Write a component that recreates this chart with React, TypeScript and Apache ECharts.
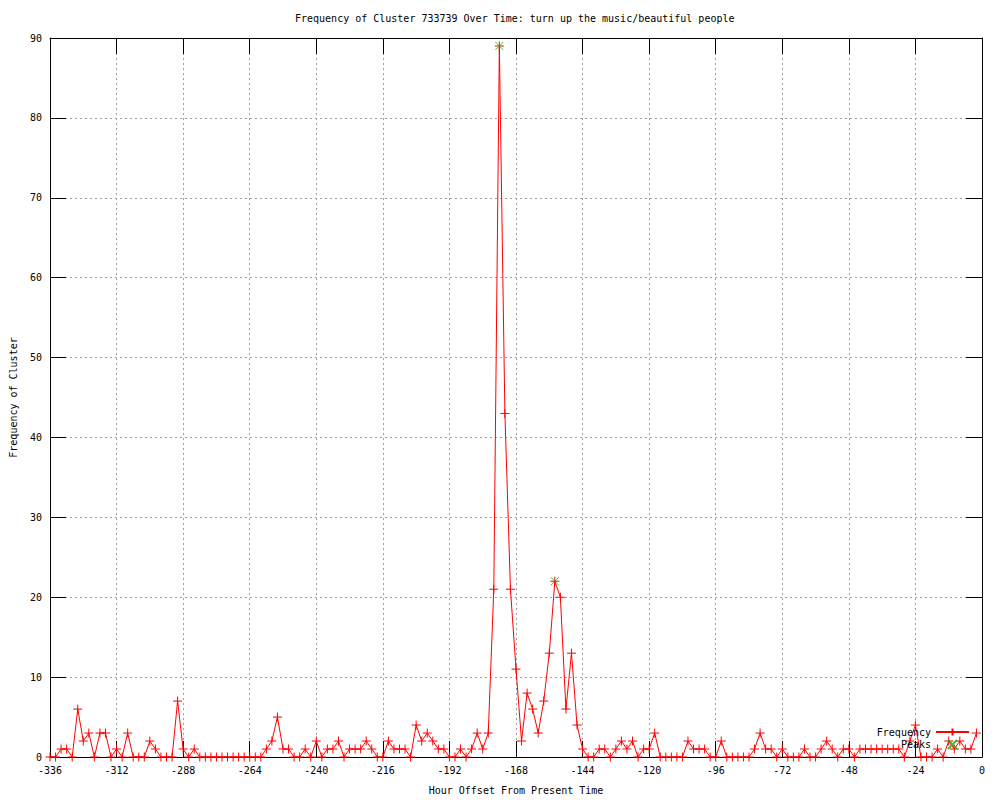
import React, { useEffect, useRef } from "react";
import * as echarts from "echarts";

const TITLE = "Frequency of Cluster 733739 Over Time: turn up the music/beautiful people";
const X_NAME = "Hour Offset From Present Time";
const Y_NAME = "Frequency of Cluster";
const SERIES_FREQ = "Frequency";
const SERIES_PEAKS = "Peaks";

// hours of the samples: -336, -334, ... , -2
const FIRST_HOUR = -336;
const HOUR_STEP = 2;

const frequency = [
  0, 0, 1, 1, 0, 6, 2, 3, 0, 3,
  3, 0, 1, 0, 3, 0, 0, 0, 2, 1,
  0, 0, 0, 7, 1, 0, 1, 0, 0, 0,
  0, 0, 0, 0, 0, 0, 0, 0, 0, 1,
  2, 5, 1, 1, 0, 0, 1, 0, 2, 0,
  1, 1, 2, 0, 1, 1, 1, 2, 1, 0,
  0, 2, 1, 1, 1, 0, 4, 2, 3, 2,
  1, 1, 0, 0, 1, 0, 1, 3, 1, 3,
  21, 89, 43, 21, 11, 2, 8, 6, 3, 7,
  13, 22, 20, 6, 13, 4, 1, 0, 0, 1,
  1, 0, 1, 2, 1, 2, 0, 1, 1, 3,
  0, 0, 0, 0, 0, 2, 1, 1, 1, 0,
  0, 2, 0, 0, 0, 0, 0, 1, 3, 1,
  1, 0, 1, 0, 0, 0, 1, 0, 0, 1,
  2, 1, 0, 1, 1, 0, 1, 1, 1, 1,
  1, 1, 1, 1, 0, 2, 4, 0, 0, 0,
  1, 0, 2, 1, 2, 1, 1, 3,
];

const peakHours = [-174, -154];
const peakValues = [89, 22];

const X_MIN = -336;
const X_MAX = 0;
const X_INTERVAL = 24;
const Y_MIN = 0;
const Y_MAX = 90;
const Y_INTERVAL = 10;

const FONT = "'DejaVu Sans Mono', 'Liberation Mono', monospace";
const PLUS = "path://M5,0L5,10M0,5L10,5";
const CROSS = "path://M0,0L10,10M10,0L0,10";

export default function App() {
  const ref = useRef<HTMLDivElement>(null);

  useEffect(() => {
    if (!ref.current) return;
    const chart = echarts.init(ref.current, null, { renderer: "svg" });

    const freqData = frequency.map((v, i) => [FIRST_HOUR + i * HOUR_STEP, v]);
    const peakData = peakHours.map((h, i) => [h, peakValues[i]]);

    const black = { color: "#000", width: 1 };
    const labelStyle = { fontFamily: FONT, fontSize: 10, color: "#000" };
    const grid = { color: "#a0a0a0", width: 1, type: [2, 3] };

    const option: any = {
      animation: false,
      backgroundColor: "#ffffff",
      textStyle: { fontFamily: FONT, fontSize: 10, color: "#000" },
      title: {
        text: TITLE,
        left: 295,
        top: 13,
        padding: 0,
        textStyle: { fontFamily: FONT, fontSize: 10, fontWeight: "normal", color: "#000" },
      },
      grid: { left: 50, top: 38, width: 932, height: 722, containLabel: false },
      legend: {
        orient: "vertical",
        right: 30,
        top: 727,
        align: "right",
        padding: 0,
        itemWidth: 33,
        itemHeight: 9,
        itemGap: 2,
        selectedMode: false,
        textStyle: { fontFamily: FONT, fontSize: 10, color: "#000" },
        data: [SERIES_FREQ, SERIES_PEAKS],
      },
      xAxis: [
        {
          type: "value",
          position: "bottom",
          min: X_MIN,
          max: X_MAX,
          interval: X_INTERVAL,
          name: X_NAME,
          nameLocation: "middle",
          nameGap: 28,
          nameTextStyle: labelStyle,
          axisLine: { show: true, onZero: false, lineStyle: black },
          axisTick: { show: true, inside: true, length: 16, lineStyle: black },
          axisLabel: { show: true, margin: 8, ...labelStyle },
          splitLine: { show: true, lineStyle: grid },
        },
        {
          type: "value",
          position: "top",
          min: X_MIN,
          max: X_MAX,
          interval: X_INTERVAL,
          axisLine: { show: true, onZero: false, lineStyle: black },
          axisTick: { show: true, inside: true, length: 16, lineStyle: black },
          axisLabel: { show: false },
          splitLine: { show: false },
        },
      ],
      yAxis: [
        {
          type: "value",
          position: "left",
          min: Y_MIN,
          max: Y_MAX,
          interval: Y_INTERVAL,
          name: Y_NAME,
          nameLocation: "middle",
          nameGap: 32,
          nameRotate: 90,
          nameTextStyle: labelStyle,
          axisLine: { show: true, onZero: false, lineStyle: black },
          axisTick: { show: true, inside: true, length: 16, lineStyle: black },
          axisLabel: { show: true, margin: 8, ...labelStyle },
          splitLine: { show: true, lineStyle: grid },
        },
        {
          type: "value",
          position: "right",
          min: Y_MIN,
          max: Y_MAX,
          interval: Y_INTERVAL,
          axisLine: { show: true, onZero: false, lineStyle: black },
          axisTick: { show: true, inside: true, length: 16, lineStyle: black },
          axisLabel: { show: false },
          splitLine: { show: false },
        },
      ],
      series: [
        {
          name: SERIES_FREQ,
          type: "line",
          xAxisIndex: 0,
          yAxisIndex: 0,
          data: freqData,
          symbol: PLUS,
          symbolSize: 9,
          showSymbol: true,
          lineStyle: { color: "#ff0000", width: 1 },
          itemStyle: { color: "#ff0000", borderColor: "#ff0000", borderWidth: 1 },
          emphasis: { disabled: true },
          z: 2,
        },
        {
          name: SERIES_PEAKS,
          type: "scatter",
          xAxisIndex: 0,
          yAxisIndex: 0,
          data: peakData,
          symbol: CROSS,
          symbolSize: 8,
          itemStyle: { color: "rgba(0,0,0,0)", borderColor: "#00c000", borderWidth: 1 },
          emphasis: { disabled: true },
          z: 3,
        },
      ],
    };

    chart.setOption(option);
    return () => {
      chart.dispose();
    };
  }, []);

  return (
    <div
      ref={ref}
      style={{ position: "fixed", left: 0, top: 0, width: 1000, height: 800, background: "#fff" }}
    />
  );
}
